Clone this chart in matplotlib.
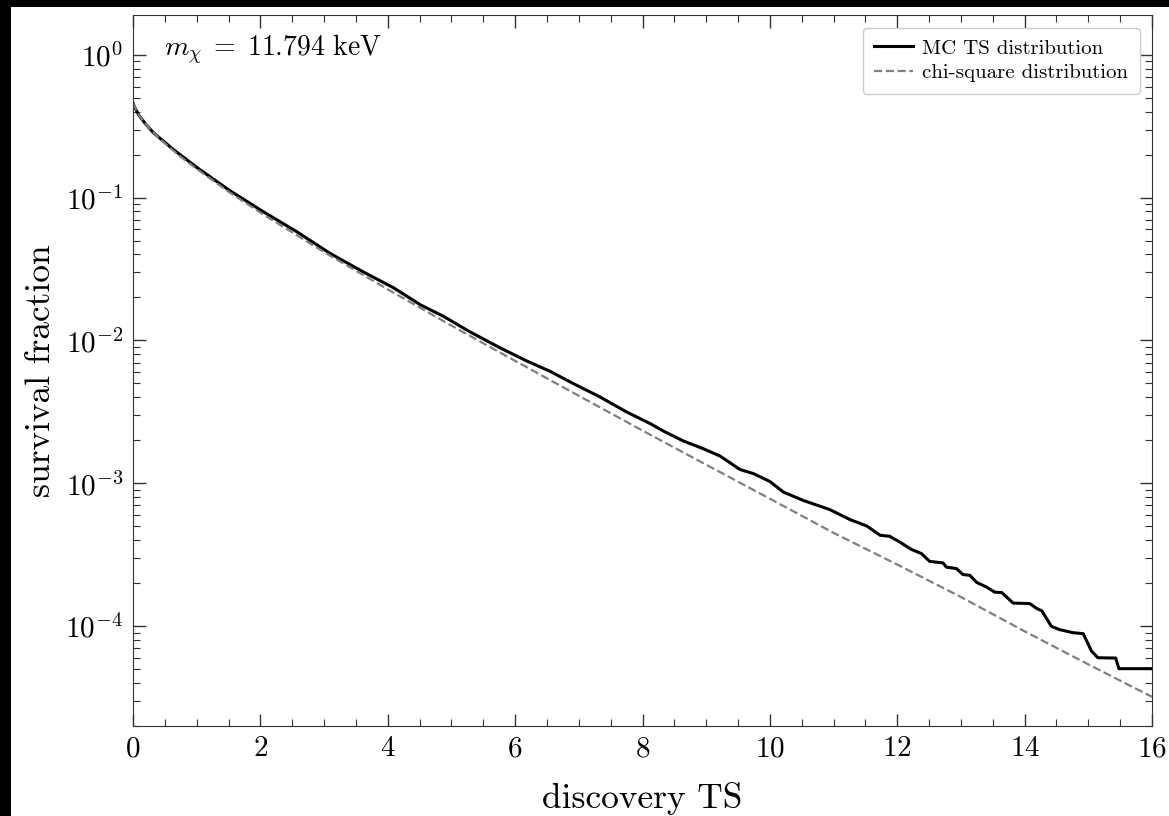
import numpy as np
import matplotlib
matplotlib.use("Agg")
import matplotlib.pyplot as plt
from matplotlib.patches import Rectangle

plt.rcParams['font.family'] = 'serif'
plt.rcParams['font.serif'] = ['cmr10']
plt.rcParams['mathtext.fontset'] = 'cm'
plt.rcParams['axes.formatter.use_mathtext'] = True
plt.rcParams['axes.unicode_minus'] = False

# MC survival fraction
ts_mc = [0.0, 0.02, 0.05, 0.1, 0.2, 0.32, 0.63, 1.0, 1.52, 2.05, 2.57, 3.09, 3.61, 4.09,
         4.51, 4.87, 5.29, 5.76, 6.18, 6.55, 6.91, 7.33, 7.75, 8.12, 8.33, 8.64,
         8.95, 9.22, 9.53, 9.74, 10.0, 10.21, 10.52, 10.94, 11.26, 11.52, 11.73, 11.88,
         12.04, 12.22, 12.38, 12.51, 12.72, 12.77, 12.93, 13.03, 13.14, 13.25, 13.40,
         13.53, 13.64, 13.82, 14.08, 14.19, 14.27, 14.42, 14.55, 14.76, 14.92, 15.05,
         15.15, 15.43, 15.48, 16.0]
sf_mc = [0.46, 0.435, 0.41, 0.374, 0.327, 0.285, 0.218, 0.163, 0.112, 0.0795, 0.0578,
         0.0408, 0.0303, 0.0234, 0.0178, 0.0148, 0.0115, 0.0089, 0.0072,
         0.00608, 0.0050, 0.00403, 0.00316, 0.00262, 0.00232, 0.00198, 0.00175, 0.00155,
         0.00125, 0.00117, 0.00103, 0.00087, 0.00076, 0.000655, 0.000557, 0.000503,
         0.000433, 0.000426, 0.000388, 0.000345, 0.000322, 0.000284, 0.000277, 0.000259,
         0.000253, 0.000230, 0.000227, 0.000202, 0.000188, 0.000173, 0.000172, 0.000145,
         0.000144, 0.000133, 0.000128, 0.0000997, 0.0000945, 0.0000900, 0.0000886,
         0.0000669, 0.0000601, 0.0000598, 0.0000504, 0.0000504]

# chi-square reference curve
ts_chi = [0.0, 0.02, 0.05, 0.1, 0.2, 0.3, 0.5, 0.75, 1.0, 1.5, 2.0, 3.0, 4.0, 5.0, 6.0,
          7.0, 8.0, 9.0, 10.0, 11.0, 12.0, 13.0, 14.0, 15.0, 16.0]
sf_chi = [0.46, 0.444, 0.41, 0.376, 0.327, 0.292, 0.24, 0.193, 0.159, 0.110, 0.0786,
          0.0416, 0.0228, 0.0127, 0.0072, 0.0041, 0.00234, 0.00135, 0.00078, 0.00045,
          0.00027, 0.00016, 0.000092, 0.000054, 0.000032]

fig = plt.figure(figsize=(11.69, 8.16), dpi=100, facecolor='black')
fig.patches.append(Rectangle((11 / 1169, 0), 1, 1 - 7 / 816, transform=fig.transFigure,
                             facecolor='white', edgecolor='none', zorder=-1))
ax = fig.add_axes([133 / 1169, 1 - 726 / 816, 1019 / 1169, 711 / 816])

ax.plot(ts_mc, sf_mc, color='black', lw=2.2, label='MC TS distribution')
ax.plot(ts_chi, sf_chi, color='gray', lw=1.6, ls='--', label='chi-square distribution')

ax.set_yscale('log')
ax.set_xlim(0, 16)
ax.set_ylim(2e-5, 1.9)
ax.set_xticks(np.arange(0, 17, 2))
ax.set_xticks(np.arange(0, 16.01, 0.5), minor=True)

ax.tick_params(which='both', direction='in', top=True, right=True, labelsize=21, color='#333333')
ax.tick_params(which='major', length=9, width=1, pad=7)
ax.tick_params(which='minor', length=4.8, width=0.8)
for s in ax.spines.values():
    s.set_color('#333333')

ax.set_xlabel('discovery TS', fontsize=25.5, labelpad=14)
ax.set_ylabel('survival fraction', fontsize=25.5, labelpad=6)

ax.text(0.03, 0.975, r'$m_\chi \;=\; 11.794\ \mathrm{keV}$', transform=ax.transAxes,
        fontsize=20, va='top', ha='left')
ax.legend(loc='upper right', fontsize=15, framealpha=1, borderaxespad=0.6,
          labelspacing=0.3, borderpad=0.55, handlelength=1.85, handletextpad=0.45)

fig.savefig('out.png', dpi=100, facecolor=fig.get_facecolor())
